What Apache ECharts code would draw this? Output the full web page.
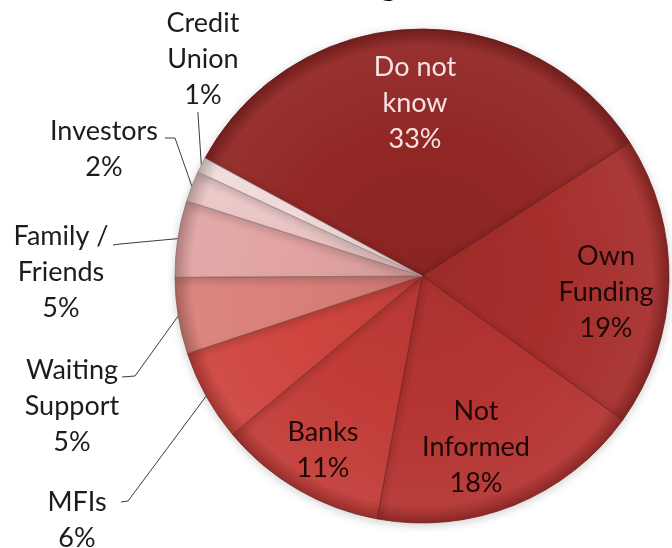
<!DOCTYPE html>
<html>
<head>
<meta charset="utf-8">
<script src="https://cdn.jsdelivr.net/npm/echarts@6/dist/echarts.min.js"></script>
<style>
  html, body { margin: 0; padding: 0; background: #ffffff; }
  #chart { width: 672px; height: 548px; }
</style>
</head>
<body>
<div id="chart"></div>
<script>
// Funding sources, share of respondents (%), clockwise from "Do not know"
const categories = ['Do not know', 'Own Funding', 'Not Informed', 'Banks', 'MFIs',
                    'Waiting Support', 'Family / Friends', 'Investors', 'Credit Union'];
const shares = [33, 19, 18, 11, 6, 5, 5, 2, 1];
// How each category name wraps in its label
const labelText = ['Do not\nknow', 'Own\nFunding', 'Not\nInformed', 'Banks', 'MFIs',
                   'Waiting\nSupport', 'Family /\nFriends', 'Investors', 'Credit\nUnion'];
const sliceColors = ['#912725', '#a62f2c', '#b43532', '#c23c38', '#cf453f',
                     '#d98079', '#e2a4a3', '#ebc5c5', '#f2dcdc'];

const CX = 422, CY = 276, R = 247;
const FONT = 'Lato, "Open Sans", sans-serif';

// label placement: centre of the text block, plus the elbow/tail of the leader line
const labelPlace = [
  { x: 415, y: 103, inside: true, color: '#f6e3e3' },
  { x: 606, y: 292, inside: true, color: '#1e0706' },
  { x: 476, y: 447, inside: true, color: '#1e0706' },
  { x: 323, y: 450, inside: true, color: '#1e0706' },
  { x: 77,  y: 520, line: [[128, 501], [121, 502]] },
  { x: 72,  y: 406, line: [[135, 376], [122, 377]] },
  { x: 61,  y: 272, line: [[120, 244], [113, 245]] },
  { x: 104, y: 149, line: [[175, 138], [165, 138]] },
  { x: 203, y: 59,  line: [[198, 114], [198, 112]] }
];

function shade(hex, f) {
  const n = parseInt(hex.slice(1), 16);
  let r = (n >> 16) & 255, g = (n >> 8) & 255, b = n & 255;
  const m = c => f >= 0 ? Math.round(c + (255 - c) * f) : Math.round(c * (1 + f));
  r = m(r); g = m(g); b = m(b);
  return '#' + ((1 << 24) + (r << 16) + (g << 8) + b).toString(16).slice(1);
}

const pieData = categories.map((name, i) => {
  const base = sliceColors[i];
  const p = labelPlace[i];
  return {
    name: name,
    value: shares[i],
    itemStyle: {
      color: {
        type: 'radial', x: CX, y: CY, r: R, global: true,
        colorStops: [
          { offset: 0, color: shade(base, -0.06) },
          { offset: 0.55, color: base },
          { offset: 0.93, color: shade(base, 0.05) },
          { offset: 1, color: shade(base, -0.22) }
        ]
      },
      borderColor: shade(base, -0.35),
      borderWidth: 0.8
    },
    label: {
      position: p.inside ? 'inside' : 'outside',
      color: p.color || '#1c1c1c'
    },
    labelLine: { show: !p.inside }
  };
});

const chart = echarts.init(document.getElementById('chart'), null, { renderer: 'canvas' });

chart.setOption({
  animation: false,
  backgroundColor: '#ffffff',
  graphic: [{
    type: 'text',
    x: 398, y: 1,
    style: {
      text: 'Sources of Funding',
      font: 'bold 36px ' + FONT,
      fill: '#000000',
      textAlign: 'right',
      textVerticalAlign: 'bottom'
    }
  }],
  series: [{
    type: 'pie',
    center: [CX, CY],
    radius: [0, R],
    startAngle: 151.5,
    clockwise: true,
    avoidLabelOverlap: false,
    minAngle: 0,
    itemStyle: {
      shadowBlur: 10,
      shadowColor: 'rgba(0,0,0,0.18)',
      shadowOffsetY: 2
    },
    label: {
      show: true,
      fontFamily: FONT,
      fontSize: 27,
      lineHeight: 36,
      align: 'center',
      formatter: params => labelText[params.dataIndex] + '\n' + params.value + '%'
    },
    labelLine: {
      show: true,
      length: 10,
      length2: 10,
      lineStyle: { color: '#3c3c3c', width: 1 }
    },
    labelLayout: params => {
      const p = labelPlace[params.dataIndex];
      const out = { x: p.x, y: p.y, align: 'center', verticalAlign: 'middle' };
      if (p.line && params.labelLinePoints) {
        const start = params.labelLinePoints[0];
        out.labelLinePoints = [[start[0], start[1]], p.line[0], p.line[1]];
      }
      return out;
    },
    data: pieData
  }]
});
</script>
</body>
</html>
